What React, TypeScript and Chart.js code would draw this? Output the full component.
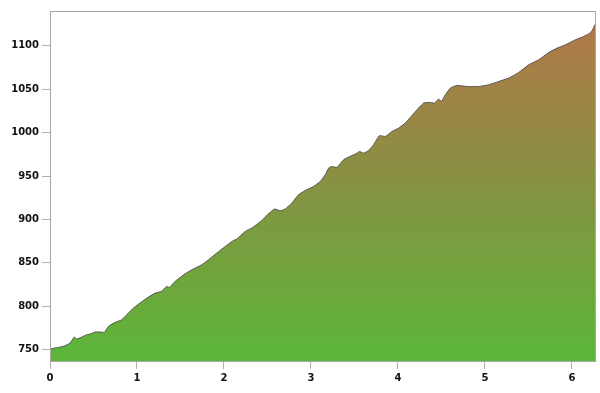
import React, { useEffect, useRef } from "react";
import { Chart, registerables } from "chart.js";

Chart.register(...registerables);

const distances = [
  0.0, 0.096, 0.173, 0.23, 0.28, 0.307, 0.365, 0.422, 0.46, 0.518, 0.575, 0.625, 0.671, 0.748, 0.825, 0.901, 0.959,
  1.093, 1.208, 1.277, 1.343, 1.373, 1.438, 1.554, 1.631, 1.746, 1.822, 1.918, 2.014, 2.109, 2.148, 2.244, 2.321,
  2.436, 2.512, 2.581, 2.647, 2.704, 2.781, 2.857, 2.934, 3.03, 3.107, 3.165, 3.203, 3.241, 3.299, 3.375, 3.433,
  3.51, 3.559, 3.605, 3.663, 3.72, 3.786, 3.855, 3.932, 4.008, 4.085, 4.181, 4.296, 4.373, 4.422, 4.468, 4.499,
  4.545, 4.603, 4.68, 4.795, 4.929, 5.044, 5.159, 5.274, 5.389, 5.504, 5.619, 5.734, 5.831, 5.926, 6.041, 6.118,
  6.195, 6.233, 6.272,
];

const elevations = [
  751, 752.6, 754.6, 757.7, 764.6, 762.3, 764.6, 767.3, 768, 770.4, 770.4, 770, 776.8, 781.5, 784.5, 792.2, 798,
  808, 815.2, 817, 822.9, 821.7, 828.6, 837.5, 842.1, 847.9, 853.6, 861.3, 868.9, 875.8, 877.4, 886.2, 890.1,
  898.9, 906.6, 912, 910, 912, 918.9, 928.4, 933.4, 938, 943.8, 951.5, 959.2, 961, 959.9, 968.7, 971.8,
  975.3, 978.3, 976.4, 979.4, 986, 996.4, 995.6, 1001.3, 1005.2, 1011, 1022, 1034, 1034.7, 1034, 1038.7, 1035.9,
  1043.6, 1051.3, 1054.3, 1053.1, 1053.1, 1055.1, 1058.9, 1062.8, 1069.3, 1078.1, 1083.9, 1092.3, 1097.3, 1101.1, 1106.9, 1110,
  1113.8, 1117.6, 1125.5,
];

const X_MIN = 0;
const X_MAX = 6.277;
const Y_MIN = 737;
const Y_MAX = 1140;

export default function App() {
  const ref = useRef<HTMLCanvasElement | null>(null);

  useEffect(() => {
    document.body.style.margin = "0";
    const canvas = ref.current!;
    const framePlugin = {
      id: "frame",
      afterDatasetsDraw(chart: any) {
        const { ctx, chartArea } = chart;
        ctx.save();
        ctx.strokeStyle = "#a8a8a8";
        ctx.lineWidth = 1;
        ctx.strokeRect(
          Math.round(chartArea.left) + 0.5,
          Math.round(chartArea.top) + 0.5,
          Math.round(chartArea.right - chartArea.left) - 1,
          Math.round(chartArea.bottom - chartArea.top)
        );
        ctx.restore();
      },
    };

    const tickFont = { family: "DejaVu Sans", size: 10, weight: "bold" };

    const chart = new Chart(canvas, {
      type: "line",
      data: {
        datasets: [
          {
            data: distances.map((d, i) => ({ x: d, y: elevations[i] })),
            fill: "start",
            borderColor: "rgba(70,70,70,0.85)",
            borderWidth: 1,
            pointRadius: 0,
            tension: 0.15,
            backgroundColor: (ctx: any) => {
              const ca = ctx.chart.chartArea;
              if (!ca) return "#7a9a40";
              const g = ctx.chart.ctx.createLinearGradient(0, ca.bottom, 0, ca.top);
              g.addColorStop(0, "#5bb639");
              g.addColorStop(0.5, "#869242");
              g.addColorStop(1, "#b4764a");
              return g;
            },
          },
        ],
      },
      options: {
        animation: false,
        responsive: true,
        maintainAspectRatio: false,
        layout: { padding: { left: 0, top: 11, right: 4, bottom: 0 } },
        plugins: { legend: { display: false }, tooltip: { enabled: false } },
        scales: {
          x: {
            type: "linear",
            min: X_MIN,
            max: X_MAX,
            grid: { display: true, drawOnChartArea: false, drawTicks: true, tickLength: 8, color: "#b0b0b0" },
            border: { display: false },
            ticks: {
              stepSize: 1,
              includeBounds: false,
              color: "#111",
              padding: 3,
              maxRotation: 0,
              font: tickFont,
              callback: (v: any) => String(v),
            },
            afterFit: (scale: any) => {
              scale.height = 32;
            },
          },
          y: {
            type: "linear",
            min: Y_MIN,
            max: Y_MAX,
            grid: { display: true, drawOnChartArea: false, drawTicks: true, tickLength: 8, color: "#b0b0b0" },
            border: { display: false },
            ticks: {
              stepSize: 50,
              includeBounds: false,
              color: "#111",
              padding: 3,
              font: tickFont,
              callback: (v: any) => String(v),
            },
            afterFit: (scale: any) => {
              scale.width = 50;
            },
          },
        },
      },
      plugins: [framePlugin],
    } as any);
    return () => chart.destroy();
  }, []);

  return (
    <div style={{ position: "fixed", left: 0, top: 0, width: 600, height: 393, background: "#fff" }}>
      <canvas ref={ref} />
    </div>
  );
}
